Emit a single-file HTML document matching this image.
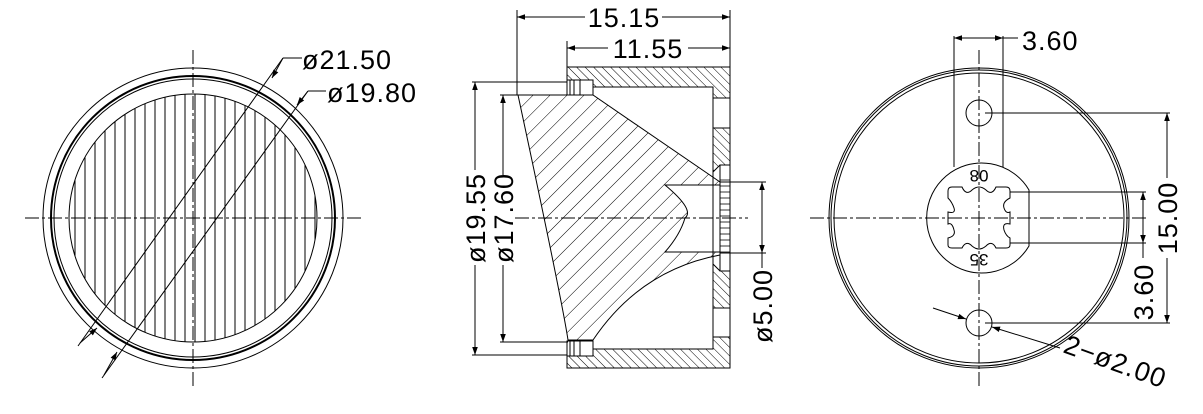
<!DOCTYPE html>
<html><head><meta charset="utf-8"><style>
html,body{margin:0;padding:0;background:#fff;}
svg{display:block;}
text{font-family:"Liberation Sans",sans-serif;font-size:27px;fill:#000;letter-spacing:1px;}
</style></head><body>
<svg width="1203" height="414" viewBox="0 0 1203 414" xmlns="http://www.w3.org/2000/svg">
<defs>
<pattern id="hv" width="10" height="10" patternUnits="userSpaceOnUse"><line x1="5" y1="0" x2="5" y2="10" stroke="#000" stroke-width="1"/></pattern>
<pattern id="h1" width="12" height="12" patternUnits="userSpaceOnUse" patternTransform="rotate(45)"><line x1="0" y1="0" x2="0" y2="12" stroke="#000" stroke-width="1"/></pattern>
<pattern id="h2" width="6" height="6" patternUnits="userSpaceOnUse" patternTransform="rotate(-45)"><line x1="0" y1="0" x2="0" y2="6" stroke="#000" stroke-width="1"/></pattern>
<marker id="a" viewBox="0 0 10 10" refX="10" refY="5" markerWidth="13" markerHeight="8" markerUnits="userSpaceOnUse" orient="auto"><path d="M0,1.5 L10,5 L0,8.5 Z" fill="#000"/></marker>
</defs>
<g fill="none" stroke="#000" stroke-width="1">
<!-- LEFT VIEW -->
<circle cx="193" cy="218" r="150"/>
<circle cx="193" cy="218" r="142" stroke-width="2"/>
<circle cx="193" cy="218" r="139"/>
<circle cx="193" cy="218" r="124" fill="url(#hv)"/>
<line x1="25" y1="218" x2="362" y2="218" stroke-dasharray="14,3,3,3"/>
<line x1="193" y1="50" x2="193" y2="386" stroke-dasharray="14,3,3,3"/>
<line x1="78" y1="346" x2="283" y2="58"/><line x1="283" y1="58" x2="302" y2="58"/>
<line x1="102" y1="378" x2="308" y2="91"/><line x1="308" y1="91" x2="326" y2="91"/>
<line x1="80" y1="343" x2="97" y2="328" marker-end="url(#a)"/>
<line x1="104" y1="375" x2="117" y2="352" marker-end="url(#a)"/>
<line x1="283" y1="58" x2="272" y2="78" marker-end="url(#a)"/>
<line x1="308" y1="91" x2="297" y2="105" marker-end="url(#a)"/>

<!-- MIDDLE VIEW -->
<path d="M567,67 H730 V98 H713 V87 H593 V80 H567 Z" fill="url(#h2)"/>
<path d="M567,368 H730 V337 H713 V349 H593 V356 H567 Z" fill="url(#h2)"/>
<path d="M713,128 H730 V165 H720 L713,172 Z" fill="url(#h2)"/>
<path d="M713,308 H730 V271 H720 L713,264 Z" fill="url(#h2)"/>
<line x1="713" y1="87" x2="713" y2="349"/>
<line x1="730" y1="67" x2="730" y2="368"/>
<rect x="720" y="165" width="10" height="106"/>
<g stroke-width="0.8">
<line x1="720" y1="180" x2="730" y2="180"/><line x1="720" y1="186" x2="730" y2="186"/><line x1="720" y1="192" x2="730" y2="192"/><line x1="720" y1="198" x2="730" y2="198"/><line x1="720" y1="204" x2="730" y2="204"/><line x1="720" y1="210" x2="730" y2="210"/><line x1="720" y1="216" x2="730" y2="216"/><line x1="720" y1="222" x2="730" y2="222"/><line x1="720" y1="228" x2="730" y2="228"/><line x1="720" y1="234" x2="730" y2="234"/><line x1="720" y1="240" x2="730" y2="240"/><line x1="720" y1="246" x2="730" y2="246"/><line x1="720" y1="252" x2="730" y2="252"/>
</g>
<rect x="567" y="80" width="13" height="15"/><rect x="580" y="80" width="13" height="15"/>
<line x1="570" y1="80" x2="570" y2="95"/><line x1="574" y1="80" x2="574" y2="95"/>
<rect x="567" y="341" width="13" height="15"/><rect x="580" y="341" width="13" height="15"/>
<line x1="570" y1="341" x2="570" y2="356"/><line x1="574" y1="341" x2="574" y2="356"/>
<path d="M518,95 H593 L720,182 V185 H665 Q695,210 685,218 Q680,235 665,252 H720 V255 Q640,270 593,340 H568 Q562,300 518,95 Z" fill="url(#h1)"/>
<line x1="517" y1="10" x2="517" y2="95"/>
<line x1="730" y1="10" x2="730" y2="67"/>
<line x1="567" y1="41" x2="567" y2="67"/>
<line x1="585" y1="17" x2="517" y2="17" marker-end="url(#a)"/>
<line x1="662" y1="17" x2="730" y2="17" marker-end="url(#a)"/>
<line x1="608" y1="48" x2="567" y2="48" marker-end="url(#a)"/>
<line x1="688" y1="48" x2="730" y2="48" marker-end="url(#a)"/>
<line x1="472" y1="82" x2="567" y2="82"/><line x1="472" y1="355" x2="567" y2="355"/>
<line x1="500" y1="95" x2="518" y2="95"/><line x1="500" y1="342" x2="568" y2="342"/>
<line x1="475" y1="170" x2="475" y2="82" marker-end="url(#a)"/>
<line x1="475" y1="265" x2="475" y2="355" marker-end="url(#a)"/>
<line x1="503" y1="175" x2="503" y2="95" marker-end="url(#a)"/>
<line x1="503" y1="265" x2="503" y2="342" marker-end="url(#a)"/>
<line x1="720" y1="182" x2="766" y2="182"/><line x1="720" y1="253" x2="766" y2="253"/>
<line x1="762" y1="215" x2="762" y2="182" marker-end="url(#a)"/>
<line x1="762" y1="215" x2="762" y2="253" marker-end="url(#a)"/>
<line x1="762" y1="253" x2="762" y2="268"/>
<line x1="515" y1="218" x2="748" y2="218" stroke-dasharray="14,3,3,3"/>

<!-- RIGHT VIEW -->
<circle cx="979" cy="218" r="150"/>
<circle cx="979" cy="218" r="148"/>
<circle cx="979" cy="218" r="145"/>
<circle cx="979" cy="113" r="13"/>
<circle cx="979" cy="323" r="13"/>
<path d="M1029,190 A55,55 0 1 0 1029,246 Z"/>
<path d="M952,187 H962 Q966,196 972,190 Q979,184 986,190 Q992,196 996,187 H1006 Q1010,187 1010,191 V198 Q1002,202 1004,208 Q1006,214 1010,212 V224 Q1002,222 1004,230 Q1006,236 1010,238 V245 Q1010,248 1006,248 H996 Q992,240 986,246 Q979,252 972,246 Q966,240 962,248 H952 Q948,248 948,245 V238 Q956,236 954,230 Q952,222 948,224 V212 Q956,214 954,208 Q952,202 948,198 V191 Q948,187 952,187 Z"/>
<line x1="810" y1="218" x2="1148" y2="218" stroke-dasharray="14,3,3,3"/>
<line x1="979" y1="50" x2="979" y2="386" stroke-dasharray="14,3,3,3"/>
<line x1="954" y1="36" x2="954" y2="167"/>
<line x1="1003" y1="36" x2="1003" y2="167"/>
<line x1="979" y1="38" x2="954" y2="38" marker-end="url(#a)"/>
<line x1="979" y1="38" x2="1003" y2="38" marker-end="url(#a)"/>
<line x1="1003" y1="38" x2="1018" y2="38"/>
<line x1="985" y1="113" x2="1170" y2="113"/>
<line x1="985" y1="323" x2="1170" y2="323"/>
<line x1="1167" y1="178" x2="1167" y2="113" marker-end="url(#a)"/>
<line x1="1167" y1="258" x2="1167" y2="323" marker-end="url(#a)"/>
<line x1="1010" y1="192" x2="1146" y2="192"/>
<line x1="1010" y1="243" x2="1146" y2="243"/>
<line x1="1143" y1="218" x2="1143" y2="192" marker-end="url(#a)"/>
<line x1="1143" y1="218" x2="1143" y2="243" marker-end="url(#a)"/>
<line x1="1143" y1="243" x2="1143" y2="258"/>
<line x1="933" y1="308" x2="966" y2="319" marker-end="url(#a)"/>
<line x1="1060" y1="348" x2="992" y2="327" marker-end="url(#a)"/>
</g>
<text x="302" y="69">ø21.50</text>
<text x="327" y="102">ø19.80</text>
<text x="624" y="27" text-anchor="middle">15.15</text>
<text x="648" y="58" text-anchor="middle">11.55</text>
<text transform="translate(485,218) rotate(-90)" text-anchor="middle">ø19.55</text>
<text transform="translate(513,218) rotate(-90)" text-anchor="middle">ø17.60</text>
<text transform="translate(772,306) rotate(-90)" text-anchor="middle">ø5.00</text>
<text x="1022" y="50">3.60</text>
<text transform="translate(1177,218) rotate(-90)" text-anchor="middle">15.00</text>
<text transform="translate(1153,292) rotate(-90)" text-anchor="middle">3.60</text>
<text transform="translate(1062,352) rotate(20)">2−ø2.00</text>
<text x="979" y="182" text-anchor="middle" style="font-size:17px;letter-spacing:0" transform="rotate(180 979 176)">08</text>
<text x="979" y="266" text-anchor="middle" style="font-size:17px;letter-spacing:0" transform="rotate(180 979 260)">35</text>
</svg>
</body></html>
